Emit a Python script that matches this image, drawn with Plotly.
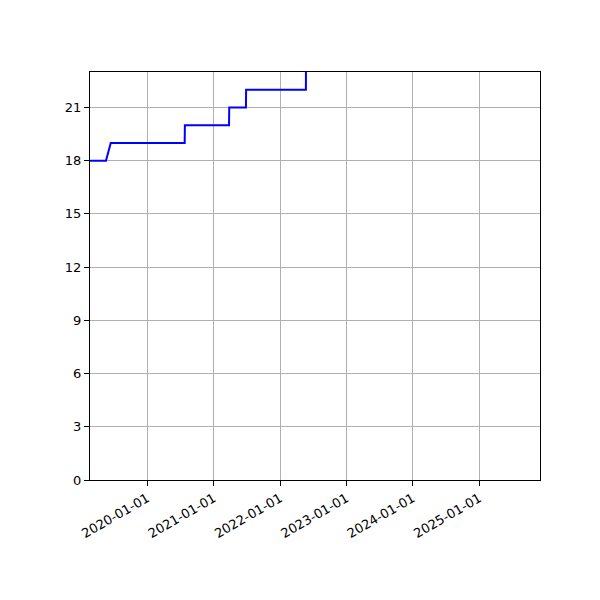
import plotly.graph_objects as go

# step series
dates = ['2019-02-20', '2019-05-19', '2019-06-14', '2020-07-25', '2020-07-26',
         '2021-03-26', '2021-03-27', '2021-06-27', '2021-06-28', '2022-05-23', '2022-05-24']
values = [18, 18, 19, 19, 20, 20, 21, 21, 22, 22, 26]

tick_dates = ['2020-01-01', '2021-01-01', '2022-01-01', '2023-01-01', '2024-01-01', '2025-01-01']
y_ticks = [0, 3, 6, 9, 12, 15, 18, 21]

fig = go.Figure(go.Scatter(x=dates, y=values, mode='lines',
                           line=dict(color='blue', width=2), showlegend=False))

axis_style = dict(showline=True, linecolor='black', linewidth=1, mirror=True,
                  ticks='outside', ticklen=5, tickcolor='black',
                  showgrid=True, gridcolor='#b0b0b0', gridwidth=1, zeroline=False,
                  tickfont=dict(family='DejaVu Sans', size=13, color='black'))

fig.update_xaxes(range=['2019-02-20', '2025-12-01'], tickvals=tick_dates, ticktext=tick_dates,
                 tickangle=-30, **axis_style)
fig.update_yaxes(range=[0, 23], tickvals=y_ticks, **axis_style)

# page has ~8px body offset, so margins are shifted to land the plot at the reference spot
fig.update_layout(width=600, height=600, plot_bgcolor='white', paper_bgcolor='white',
                  margin=dict(l=82, r=68, t=64, b=128))

fig.write_html("out.html")
